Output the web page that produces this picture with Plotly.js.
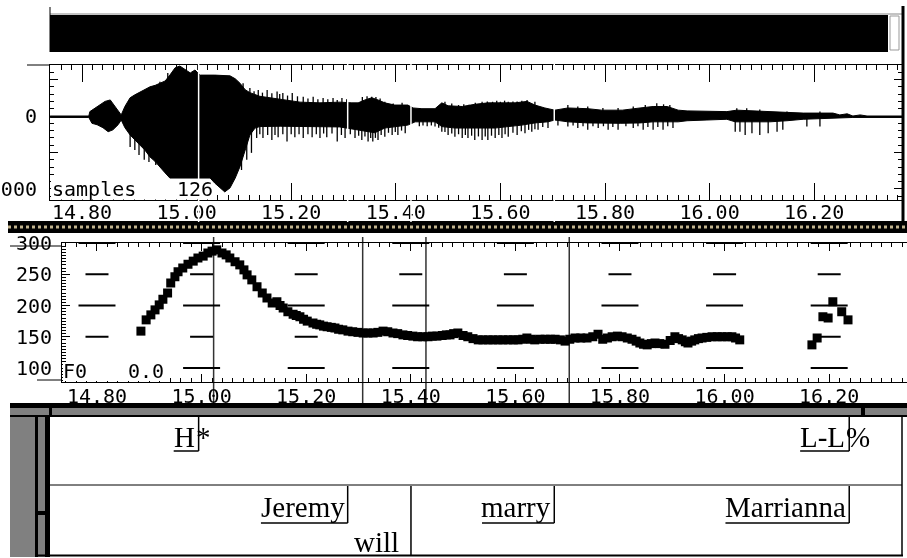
<!DOCTYPE html>
<html><head><meta charset="utf-8">
<script src="https://cdn.plot.ly/plotly-3.0.1.min.js"></script>
<style>html,body{margin:0;padding:0;background:#fff;overflow:hidden}</style>
</head><body><div id="chart" style="width:907px;height:558px"></div>
<script>
// ---------------- data ----------------
const tickLabels = ["14.80","15.00","15.20","15.40","15.60","15.80","16.00","16.20"];

// waveform body envelope (time s, amplitude samples)
const waveHiT = [14.739,14.813,14.815,14.825,14.834,14.844,14.854,14.861,14.869,14.875,14.882,14.892,14.901,14.911,14.920,14.930,14.940,14.949,14.959,14.968,14.978,14.987,14.997,15.007,15.016,15.026,15.054,15.083,15.093,15.102,15.112,15.121,15.140,15.159,15.179,15.217,15.255,15.293,15.316,15.328,15.341,15.354,15.366,15.379,15.398,15.423,15.433,15.450,15.475,15.488,15.500,15.527,15.551,15.576,15.603,15.628,15.651,15.666,15.685,15.704,15.729,15.767,15.794,15.833,15.867,15.892,15.919,15.940,15.957,15.995,16.033,16.052,16.083,16.115,16.148,16.179,16.236,16.249,16.263,16.274,16.288,16.301,16.368];
const waveHi  = [0,0,600,1100,1500,2000,2200,1500,800,150,1300,2500,2900,3300,3700,4000,4200,4500,4800,5600,6600,6850,6400,5900,6300,5600,5600,5500,5100,4500,3600,3200,2700,2500,2200,1900,1800,1900,1800,1800,2200,2500,2200,1800,1500,1500,1100,1000,1000,1800,1400,1300,1600,1800,1800,1800,2000,1500,1100,800,1100,1000,800,800,1100,1300,1300,800,700,600,600,800,700,600,450,400,400,150,300,0,150,0,0];
const waveLoT = [14.739,14.813,14.819,14.829,14.840,14.850,14.859,14.869,14.875,14.882,14.892,14.901,14.911,14.920,14.930,14.940,14.949,14.959,14.968,15.045,15.054,15.064,15.073,15.083,15.093,15.102,15.108,15.115,15.121,15.131,15.140,15.179,15.293,15.309,15.347,15.360,15.379,15.398,15.423,15.437,15.475,15.488,15.513,15.590,15.615,15.641,15.666,15.691,15.704,15.729,15.767,15.829,15.867,15.892,15.940,15.957,15.995,16.033,16.049,16.115,16.148,16.179,16.236,16.274,16.368];
const waveLo  = [-200,-200,-1000,-1200,-1600,-2150,-1900,-1200,-550,-1600,-2600,-3300,-4000,-4650,-5600,-6250,-6950,-7800,-8500,-8500,-9200,-9850,-10400,-9850,-8500,-6950,-5600,-4000,-2600,-1650,-1450,-1400,-1500,-1650,-2150,-2300,-1650,-1450,-1250,-800,-800,-1450,-1650,-1650,-1450,-1250,-950,-800,-550,-800,-950,-1000,-950,-800,-800,-650,-550,-450,-800,-800,-650,-450,-300,-200,-200];

// glottal-pulse spikes beyond the body
const spikeLoT = [14.892,14.901,14.909,14.919,14.928,14.941,15.105,15.115,15.124,15.134,15.140,15.146,15.155,15.163,15.169,15.175,15.184,15.192,15.200,15.207,15.215,15.223,15.232,15.240,15.248,15.255,15.262,15.268,15.278,15.288,15.296,15.303,15.313,15.322,15.329,15.335,15.341,15.347,15.352,15.356,15.361,15.366,15.372,15.379,15.386,15.393,15.399,15.404,15.411,15.418,15.445,15.452,15.460,15.468,15.475,15.482,15.488,15.494,15.500,15.507,15.513,15.520,15.527,15.533,15.538,15.545,15.551,15.558,15.565,15.571,15.576,15.583,15.590,15.597,15.603,15.609,15.615,15.624,15.632,15.640,15.647,15.654,15.660,15.666,15.672,15.681,15.691,15.710,15.729,15.739,15.748,15.758,15.767,15.777,15.787,15.797,15.806,15.815,15.825,15.840,15.854,15.863,15.873,15.882,15.892,15.901,15.911,15.920,15.930,16.049,16.058,16.068,16.081,16.096,16.112,16.129,16.140,16.186,16.211];
const spikeLo  = [-4250,-4650,-5350,-6000,-6300,-6700,-7400,-6000,-5050,-3000,-2500,-3000,-2600,-3300,-2600,-2900,-2500,-3500,-2500,-2900,-2500,-3000,-2500,-2900,-2500,-3000,-2400,-2900,-2400,-3500,-2600,-3000,-2500,-3000,-2700,-3300,-2800,-3500,-3000,-3500,-3000,-3300,-2600,-2850,-2300,-2600,-2200,-2600,-2000,-2350,-1400,-1300,-1400,-1300,-1450,-1600,-2150,-2200,-2600,-2400,-2850,-2500,-3000,-2600,-3000,-2700,-3300,-2800,-3300,-2800,-3300,-2700,-3000,-2600,-3000,-2500,-2850,-2300,-2600,-2100,-2350,-1900,-2150,-1800,-1900,-1500,-1650,-1300,-1450,-1300,-1650,-1400,-1900,-1400,-1650,-1400,-1900,-1500,-1900,-1400,-1650,-1400,-1900,-1500,-1900,-1500,-1900,-1400,-1650,-2150,-2150,-2600,-2350,-2600,-2350,-2150,-1900,-1450,-1450];
const spikeHiT = [14.949,14.964,15.108,15.121,15.129,15.137,15.145,15.154,15.163,15.173,15.178,15.184,15.193,15.202,15.212,15.223,15.232,15.242,15.251,15.261,15.270,15.280,15.288,15.297,15.306,15.336,15.345,15.354,15.362,15.370,15.379,15.395,15.412,15.494,15.507,15.520,15.530,15.540,15.552,15.565,15.575,15.585,15.593,15.600,15.608,15.615,15.624,15.632,15.641,15.651,15.666,15.729,15.748,15.767,15.796,15.825,15.854,15.877,15.899,15.912,15.924,16.052,16.071,16.096,16.148,16.211];
const spikeHi  = [4700,5900,4500,3850,3400,3550,3200,3550,3100,3350,3000,3150,2800,3150,2700,2650,2400,2650,2300,2450,2300,2450,2200,2450,2300,2600,2700,2650,2600,2400,1950,1700,1800,1950,1700,1500,1600,1550,1800,1950,2000,1950,2100,1950,2100,1950,2000,2000,2100,2200,1950,1500,1300,1300,1100,1100,1300,1500,1750,1600,1500,1050,1050,900,600,600];

// F0 track (time s, Hz)
const f0T = [14.884,14.894,14.903,14.911,14.919,14.926,14.935,14.941,14.949,14.955,14.964,14.974,14.984,14.993,15.003,15.012,15.020,15.029,15.039,15.047,15.054,15.064,15.073,15.081,15.087,15.096,15.106,15.116,15.125,15.135,15.144,15.150,15.156,15.165,15.175,15.181,15.188,15.195,15.202,15.213,15.220,15.226,15.233,15.240,15.248,15.255,15.262,15.270,15.280,15.289,15.299,15.309,15.318,15.328,15.337,15.347,15.356,15.366,15.375,15.385,15.394,15.404,15.413,15.423,15.433,15.441,15.450,15.460,15.468,15.475,15.482,15.490,15.500,15.509,15.519,15.529,15.538,15.548,15.557,15.567,15.576,15.586,15.596,15.605,15.614,15.622,15.630,15.637,15.647,15.657,15.667,15.676,15.686,15.695,15.704,15.714,15.725,15.737,15.748,15.758,15.767,15.776,15.785,15.795,15.804,15.814,15.823,15.831,15.838,15.845,15.852,15.860,15.867,15.876,15.886,15.896,15.905,15.912,15.919,15.925,15.930,15.937,15.943,15.950,15.957,15.966,15.976,15.986,15.995,16.005,16.014,16.021,16.029,16.167,16.177,16.188,16.198,16.207,16.224,16.236];
const f0  = [159,177,185,193,201,210,220,236,246,254,260,266,271,276,279,284,287,289,284,281,276,270,265,257,249,241,230,220,212,204,206,200,196,190,186,184,182,178,175,172,170,169,167,166,165,164,162,161,159,158,157,156,156,156,157,159,158,156,155,153,152,151,150,150,150,151,151,152,153,153,155,156,152,150,147,145,145,145,145,145,145,145,145,145,146,148,146,145,146,146,146,146,145,143,146,148,148,148,150,154,146,148,150,151,150,148,146,143,140,138,137,139,140,139,138,144,150,147,145,142,140,143,145,147,148,149,150,150,150,150,150,148,145,137,148,182,180,206,190,177];
// low trace drawn under the F0 axis
const vuvT = [16.062,16.075,16.090,16.105,16.120,16.131];
const vuv  = [71,69,67,66,65,65];

const f0YTicks = [100,150,200,250,300];
const waveYTicks = [5000,0,-5000,-10000];
const waveYLabels = ["","0","","-10000"];

const toneLabels = ["H*","L-L%"];
const toneTimes  = [15.023,16.267];
const wordLabels = ["Jeremy","will","marry","Marrianna"];
const wordTimes  = [15.308,15.429,15.703,16.267];
const markTimes  = [15.023,15.308,15.429,15.703];

// ---------------- layout helpers ----------------
const W = 907, H = 558;
const PX = x => x / W, PY = y => 1 - y / H;
const mono = '"DejaVu Sans Mono", monospace';
const serif = '"Liberation Serif", "Times New Roman", serif';
const waveXRange = [14.7388, 16.3679];
const f0XRange = [14.7331, 16.3488];
const pxPerSec = (902 - 50) / (waveXRange[1] - waveXRange[0]);
const sec = p => p / pxPerSec;
const tickVals = tickLabels.map(Number);

const shapes = [];
const annotations = [];
function rect(x0, y0, x1, y1, color) {
  shapes.push({type:'rect', xref:'paper', yref:'paper', x0:PX(x0), x1:PX(x1), y0:PY(y1), y1:PY(y0),
    fillcolor:color, line:{width:0}, layer:'above'});
}
function pline(x0, y0, x1, y1, color, width, dash) {
  shapes.push({type:'line', xref:'paper', yref:'paper', x0:PX(x0), x1:PX(x1), y0:PY(y0), y1:PY(y1),
    line:{color:color, width:width, dash:dash || 'solid'}, layer:'above'});
}

// ---- traces ----
const traces = [];
traces.push({type:'scatter', mode:'lines', xaxis:'x', yaxis:'y',
  x: waveHiT.concat(waveLoT.slice().reverse()),
  y: waveHi.concat(waveLo.slice().reverse()),
  fill:'toself', fillcolor:'#000', line:{color:'#000', width:1}, hoverinfo:'skip'});
const sx = [], sy = [];
spikeLoT.forEach((t, i) => { sx.push(t, t, null); sy.push(0, spikeLo[i], null); });
spikeHiT.forEach((t, i) => { sx.push(t, t, null); sy.push(0, spikeHi[i], null); });
traces.push({type:'scatter', mode:'lines', xaxis:'x', yaxis:'y', x:sx, y:sy,
  line:{color:'#000', width:1.3}, hoverinfo:'skip'});
traces.push({type:'scatter', mode:'markers', xaxis:'x2', yaxis:'y2', x:f0T, y:f0,
  marker:{symbol:'square', size:9, color:'#000', line:{width:0}}, hoverinfo:'skip'});
traces.push({type:'scatter', mode:'markers', xaxis:'x2', yaxis:'y2', x:vuvT, y:vuv, cliponaxis:false,
  marker:{symbol:'square', size:7, color:'#000', line:{width:0}}, hoverinfo:'skip'});

// ---- F0 dashed grid (dashes centred on the major time ticks) ----
[[100, 37], [200, 37], [300, 37], [150, 23], [250, 23]].forEach(([lev, len]) => {
  tickVals.forEach(t => {
    shapes.push({type:'line', xref:'x2', yref:'y2', x0:t - sec(len / 2), x1:t + sec(len / 2), y0:lev, y1:lev,
      line:{color:'#000', width:2}, layer:'below'});
  });
});

// cursor marks in the F0 panel (below the points, like the reference)
markTimes.forEach(t => {
  shapes.push({type:'line', xref:'x2', yref:'paper', x0:t, x1:t, y0:PY(237), y1:PY(403),
    line:{color:'#333', width:1.5}, layer:'below'});
});

// ---- decoration: top bar ----
rect(50, 15, 888, 52, '#000');
pline(50, 14, 902, 14, '#888', 1);
shapes.push({type:'rect', xref:'paper', yref:'paper', x0:PX(890), x1:PX(899), y0:PY(50), y1:PY(16),
  fillcolor:'#fff', line:{color:'#999', width:1}, layer:'above'});
pline(50, 7, 50, 52, '#000', 1);
pline(903, 6, 903, 226, '#000', 3);
pline(27, 65, 50, 65, '#000', 1);
// separator band with dotted pattern
rect(8, 221, 907, 233, '#000');
pline(8, 227, 907, 227, '#c2b48e', 3, 'dot');
// F0 panel extensions
pline(10, 246, 62, 246, '#000', 1);
pline(37, 380, 62, 380, '#000', 1);
// covers under panel captions
rect(51, 181, 212, 199.4, '#fff');
rect(63, 362, 166, 381, '#fff');
// bottom label window frame
rect(10, 403, 907, 408, '#000');
rect(10, 408, 907, 415, '#808080');
rect(49, 408, 52, 415, '#000');
rect(861, 408, 865, 415, '#000');
rect(10, 415, 907, 417, '#000');
rect(10, 417, 35, 557, '#808080');
rect(35, 417, 38, 557, '#000');
rect(38, 417, 45, 557, '#808080');
rect(38, 511, 45, 515, '#000');
rect(45, 417, 50, 557, '#000');
pline(50, 485, 902, 485, '#000', 1);
pline(35, 555.5, 903, 555.5, '#000', 2);
pline(902, 417, 902, 556, '#000', 1.5);

// ---- labels ----
const ctx = document.createElement('canvas').getContext('2d');
ctx.font = '29px "Liberation Serif"';
const lblFont = {family:serif, size:29, color:'#000'};
toneLabels.forEach((lab, i) => {
  const t = toneTimes[i];
  const main = lab.slice(0, -1), last = lab.slice(-1);
  const w = ctx.measureText(main).width;
  annotations.push({xref:'x', yref:'paper', x:t, xshift:-2, xanchor:'right', y:PY(437), yanchor:'middle',
    text:main, font:lblFont, showarrow:false});
  annotations.push({xref:'x', yref:'paper', x:t, xshift:-5, xanchor:'left', y:PY(437), yanchor:'middle',
    text:last, font:lblFont, showarrow:false});
  shapes.push({type:'line', xref:'x', yref:'paper', x0:t - sec(w + 4), x1:t, y0:PY(451), y1:PY(451), line:{color:'#000', width:1.5}, layer:'above'});
  shapes.push({type:'line', xref:'x', yref:'paper', x0:t, x1:t, y0:PY(417), y1:PY(451), line:{color:'#000', width:1.5}, layer:'above'});
});
wordLabels.forEach((lab, i) => {
  const t = wordTimes[i];
  const w = ctx.measureText(lab).width;
  const prev = i > 0 ? wordTimes[i - 1] : waveXRange[0];
  const gapPx = (t - prev) * pxPerSec;
  if (gapPx < w + 30) {
    annotations.push({xref:'x', yref:'paper', x:t, xshift:-10, xanchor:'right', y:PY(542), yanchor:'middle',
      text:lab, font:lblFont, showarrow:false});
    shapes.push({type:'line', xref:'x', yref:'paper', x0:t, x1:t, y0:PY(486), y1:PY(555), line:{color:'#000', width:1.5}, layer:'above'});
  } else {
    annotations.push({xref:'x', yref:'paper', x:t, xshift:-1, xanchor:'right', y:PY(507), yanchor:'middle',
      text:lab, font:lblFont, showarrow:false});
    shapes.push({type:'line', xref:'x', yref:'paper', x0:t - sec(w + 3), x1:t, y0:PY(523), y1:PY(523), line:{color:'#000', width:1.5}, layer:'above'});
    shapes.push({type:'line', xref:'x', yref:'paper', x0:t, x1:t, y0:PY(486), y1:PY(523), line:{color:'#000', width:1.5}, layer:'above'});
  }
});

// panel captions
const capFont = {family:mono, size:20, color:'#000'};
[['samples', 52, 189], ['126', 177, 189], ['F0', 63, 371], ['0.0', 128, 371]].forEach(([txt, x, y]) => {
  annotations.push({xref:'paper', yref:'paper', x:PX(x), y:PY(y), xanchor:'left', yanchor:'middle',
    text:txt, font:capFont, showarrow:false, borderpad:0, borderwidth:0});
});

// cursor marks in the waveform panel (XOR style)
const XOR = 'rgb(255,255,254)';
markTimes.forEach(t => {
  shapes.push({type:'line', xref:'x', yref:'paper', x0:t, x1:t, y0:PY(52), y1:PY(222), line:{color:XOR, width:1.5}, layer:'above'});
});

// ---- axes ----
const common = {showgrid:false, zeroline:false, showline:true, linecolor:'#000', linewidth:1,
  tickcolor:'#000', tickwidth:1, fixedrange:true};
const layout = {
  width:W, height:H, margin:{l:0, r:0, t:0, b:0},
  paper_bgcolor:'#fff', plot_bgcolor:'rgba(0,0,0,0)', showlegend:false,
  xaxis: Object.assign({}, common, {domain:[PX(50), PX(902)], range:waveXRange, anchor:'y',
    tickmode:'array', tickvals:tickVals, ticktext:tickLabels, ticks:'inside', ticklen:17, mirror:'ticks',
    ticklabelstandoff:-6,
    minor:{tickmode:'linear', tick0:14.8, dtick:0.02, ticks:'inside', ticklen:5, tickcolor:'#000', tickwidth:1},
    tickfont:{family:mono, size:20, color:'#000'}}),
  yaxis: Object.assign({}, common, {domain:[PY(200), PY(65)], range:[-11508, 6987], anchor:'x',
    tickmode:'array', tickvals:waveYTicks, ticktext:waveYLabels, ticks:'inside', ticklen:8, mirror:'ticks',
    ticklabelstandoff:8,
    minor:{tickmode:'linear', tick0:0, dtick:1000, ticks:'inside', ticklen:4, tickcolor:'#000', tickwidth:1},
    tickfont:{family:mono, size:20, color:'#000'}}),
  xaxis2: Object.assign({}, common, {domain:[PX(62), 1], range:f0XRange, anchor:'y2',
    tickmode:'array', tickvals:tickVals, ticktext:tickLabels, ticks:'inside', ticklen:8, mirror:'ticks',
    ticklabelstandoff:-4,
    minor:{tickmode:'linear', tick0:14.8, dtick:0.02, ticks:'inside', ticklen:4, tickcolor:'#000', tickwidth:1},
    tickfont:{family:mono, size:20, color:'#000'}}),
  yaxis2: Object.assign({}, common, {domain:[PY(382), PY(243)], range:[77.6, 300], anchor:'x2',
    tickmode:'array', tickvals:f0YTicks, ticks:'inside', ticklen:8, ticklabelstandoff:5,
    minor:{tickmode:'linear', tick0:0, dtick:5, ticks:'inside', ticklen:4, tickcolor:'#000', tickwidth:1},
    tickfont:{family:mono, size:20, color:'#000'}}),
  shapes: shapes,
  annotations: annotations
};

Plotly.newPlot('chart', traces, layout, {staticPlot:true, displayModeBar:false}).then(gd => {
  gd.querySelectorAll('.shapelayer path').forEach(p => {
    const s = (p.style.stroke || '').replace(/\s/g, '');
    if (s === XOR) p.style.mixBlendMode = 'difference';
  });
});
</script>
</body></html>
